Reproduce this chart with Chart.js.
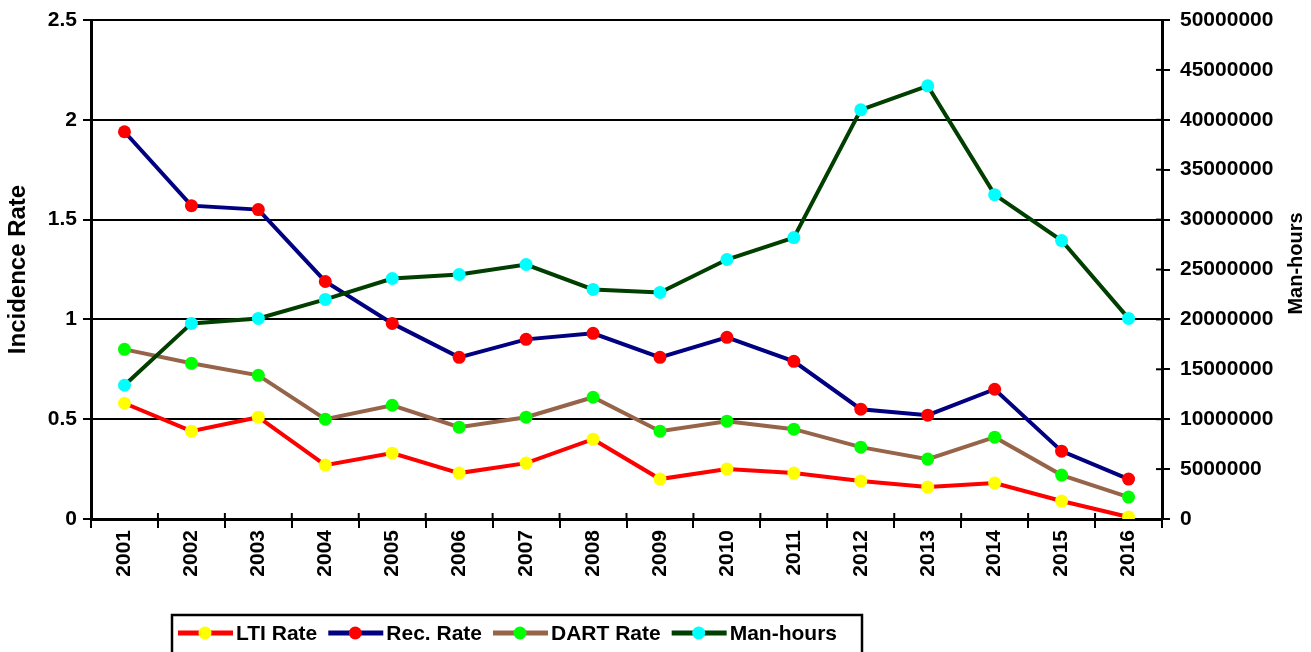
<!DOCTYPE html>
<html>
<head>
<meta charset="utf-8">
<script src="https://cdn.jsdelivr.net/npm/chart.js@4"></script>
<style>
    body { margin: 0; background: #fff; }
    #wrap { width: 1311px; height: 652px; }
</style>
</head>
<body>
<div id="wrap"><canvas id="chart"></canvas></div>
<script>
// datos
const years = ['2001', '2002', '2003', '2004', '2005', '2006', '2007', '2008',
    '2009', '2010', '2011', '2012', '2013', '2014', '2015', '2016'];
const ltiRate = [0.58, 0.44, 0.51, 0.27, 0.33, 0.23, 0.28, 0.40, 0.20, 0.25, 0.23, 0.19, 0.16, 0.18, 0.09, 0.01];
const recRate = [1.94, 1.57, 1.55, 1.19, 0.98, 0.81, 0.90, 0.93, 0.81, 0.91, 0.79, 0.55, 0.52, 0.65, 0.34, 0.20];
const dartRate = [0.85, 0.78, 0.72, 0.50, 0.57, 0.46, 0.51, 0.61, 0.44, 0.49, 0.45, 0.36, 0.30, 0.41, 0.22, 0.11];
const manHours = [13400000, 19600000, 20100000, 22000000, 24100000, 24500000, 25500000, 23000000,
    22700000, 26000000, 28200000, 41000000, 43400000, 32500000, 27900000, 20100000];
const leftTicks = ['0', '0.5', '1', '1.5', '2', '2.5'];
const rightTicks = ['0', '5000000', '10000000', '15000000', '20000000', '25000000',
    '30000000', '35000000', '40000000', '45000000', '50000000'];

const FONT = "'Liberation Sans', Arial, sans-serif";

function serie(label, data, lineColor, dotColor, axis, order) {
    return {
        label: label,
        data: data,
        yAxisID: axis,
        order: order,
        borderColor: lineColor,
        backgroundColor: dotColor,
        pointBackgroundColor: dotColor,
        pointBorderWidth: 0,
        pointRadius: 6.5,
        borderWidth: 4,
        tension: 0,
        fill: false
    };
}

// leyenda propia: línea con punto en medio, dentro de un recuadro
const boxLegend = {
    id: 'boxLegend',
    afterDraw(chart) {
        const ctx = chart.ctx;
        const x = chart.scales.x, y1 = chart.scales.y1;
        ctx.save();
        ctx.strokeStyle = '#000';
        ctx.lineWidth = 2;
        // marcas cortas hacia dentro en eje derecho y eje x
        y1.ticks.forEach((t, i) => {
            const py = y1.getPixelForTick(i);
            ctx.beginPath(); ctx.moveTo(y1.left - 6, py); ctx.lineTo(y1.left, py); ctx.stroke();
        });
        for (let i = 0; i <= years.length; i++) {
            const px = x.left + i * (x.width / years.length);
            ctx.beginPath(); ctx.moveTo(px, x.top - 6); ctx.lineTo(px, x.top); ctx.stroke();
        }

        // título del eje derecho, leído de abajo hacia arriba
        ctx.save();
        ctx.translate(1296, (chart.chartArea.top + chart.chartArea.bottom) / 2 - 6);
        ctx.rotate(-Math.PI / 2);
        ctx.font = 'bold 20px ' + FONT;
        ctx.textAlign = 'center';
        ctx.textBaseline = 'middle';
        ctx.fillStyle = '#000';
        ctx.fillText('Man-hours', 0, 0);
        ctx.restore();

        ctx.lineWidth = 2.5;
        ctx.strokeRect(172, 615, 690, 60);
        ctx.font = 'bold 21px ' + FONT;
        ctx.textBaseline = 'middle';
        ctx.fillStyle = '#000';
        let cx = 178;
        const cy = 633;
        chart.data.datasets.forEach(ds => {
            ctx.strokeStyle = ds.borderColor;
            ctx.lineWidth = 5;
            ctx.beginPath(); ctx.moveTo(cx, cy); ctx.lineTo(cx + 55, cy); ctx.stroke();
            ctx.fillStyle = ds.pointBackgroundColor;
            ctx.beginPath(); ctx.arc(cx + 27, cy, 6.5, 0, Math.PI * 2); ctx.fill();
            ctx.fillStyle = '#000';
            ctx.fillText(ds.label, cx + 58, cy + 1);
            cx += 58 + ctx.measureText(ds.label).width + 11;
        });
        ctx.restore();
    }
};

const ctx = document.getElementById('chart').getContext('2d');
new Chart(ctx, {
    type: 'line',
    data: {
        labels: years,
        datasets: [
            serie('LTI Rate', ltiRate, '#ff0000', '#ffff00', 'y', 3),
            serie('Rec. Rate', recRate, '#000080', '#ff0000', 'y', 2),
            serie('DART Rate', dartRate, '#966549', '#00ff00', 'y', 1),
            serie('Man-hours', manHours, '#003f00', '#00ffff', 'y1', 0)
        ]
    },
    options: {
        responsive: true,
        maintainAspectRatio: false,
        animation: false,
        layout: { padding: { top: 20, left: 0, right: 0, bottom: 0 } },
        plugins: {
            legend: { display: false },
            tooltip: { enabled: false }
        },
        scales: {
            x: {
                offset: true,
                grid: { offset: true, drawOnChartArea: false, color: '#000', lineWidth: 2, tickLength: 9 },
                border: { color: '#000', width: 3 },
                ticks: {
                    minRotation: 90, maxRotation: 90, padding: 2,
                    color: '#000', font: { family: FONT, size: 21, weight: 'bold' }
                },
                afterFit: s => { s.height = 133; }
            },
            y: {
                position: 'left',
                min: 0, max: 2.5,
                ticks: {
                    stepSize: 0.5, padding: 6,
                    color: '#000', font: { family: FONT, size: 21, weight: 'bold' },
                    callback: (v, i) => leftTicks[i]
                },
                grid: { color: '#000', lineWidth: 2, tickLength: 8 },
                border: { color: '#000', width: 3 },
                title: {
                    display: true, text: 'Incidence Rate', color: '#000',
                    font: { family: FONT, size: 24, weight: 'bold' },
                    padding: { top: 4, bottom: 0 }
                },
                afterFit: s => { s.width = 91; s.paddingTop = 0; s.paddingBottom = 0; }
            },
            y1: {
                position: 'right',
                min: 0, max: 50000000,
                ticks: {
                    stepSize: 5000000, padding: 10,
                    color: '#000', font: { family: FONT, size: 21, weight: 'bold' },
                    callback: (v, i) => rightTicks[i]
                },
                grid: { drawOnChartArea: false, color: '#000', lineWidth: 2, tickLength: 8 },
                border: { color: '#000', width: 3 },
                afterFit: s => { s.width = 149; s.paddingTop = 0; s.paddingBottom = 0; }
            }
        }
    },
    plugins: [boxLegend]
});
</script>
</body>
</html>
